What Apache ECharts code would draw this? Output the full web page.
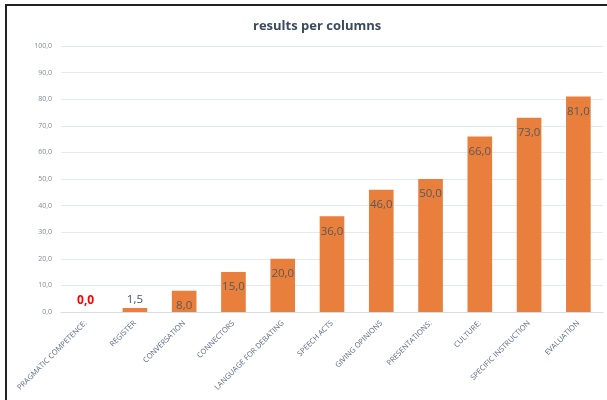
<!DOCTYPE html>
<html><head><meta charset="utf-8">
<script src="https://cdn.jsdelivr.net/npm/echarts@6/dist/echarts.min.js"></script>
<style>html,body{margin:0;padding:0;background:#fff}#c{width:607px;height:400px}</style>
</head><body><div id="c"></div>
<script>
const categories = ['PRAGMATIC COMPETENCE:','REGISTER','CONVERSATION','CONNECTORS','LANGUAGE FOR DEBATING','SPEECH ACTS','GIVING OPINIONS','PRESENTATIONS:','CULTURE:','SPECIFIC INSTRUCTION','EVALUATION'];
const values = [0, 1.5, 8, 15, 20, 36, 46, 50, 66, 73, 81];
const yTicks = {min: 0, max: 100, interval: 10};
const title = 'results per columns';

const fmt = v => Number(v).toFixed(1).replace('.', ',');
const data = values.map((v, i) => {
  const item = {value: v};
  if (i === 0) item.label = {position: 'top', distance: 5, color: '#ff0000', fontWeight: 'bold', fontSize: 12};
  else if (i === 1) item.label = {position: 'top', distance: 2, color: '#44546a'};
  return item;
});

const chart = echarts.init(document.getElementById('c'), null, {renderer: 'canvas'});
chart.setOption({
  backgroundColor: '#fff',
  animation: false,
  title: {text: title, left: 248, top: 15, textStyle: {fontFamily: 'Open Sans', fontSize: 13, fontWeight: 'bold', color: '#3b4a5e'}},
  grid: {left: 61, right: 4, top: 46, bottom: 88, containLabel: false},
  xAxis: {
    type: 'category', data: categories,
    axisLine: {lineStyle: {color: '#d9dee5'}},
    axisTick: {show: false},
    axisLabel: {rotate: 45, interval: 0, fontSize: 7.5, color: '#5d6c84', fontFamily: 'Open Sans', margin: 10}
  },
  yAxis: {
    type: 'value', min: yTicks.min, max: yTicks.max, interval: yTicks.interval,
    axisLine: {show: false}, axisTick: {show: false},
    splitLine: {lineStyle: {color: '#e4e9ef'}},
    axisLabel: {formatter: fmt, fontSize: 7, color: '#7f8898', fontFamily: 'Open Sans', margin: 9}
  },
  series: [{
    type: 'bar', data: data, barWidth: '50%',
    itemStyle: {color: '#E97F3C'},
    label: {show: true, position: 'insideTop', distance: 9, formatter: p => fmt(p.value), fontSize: 11.5, color: '#595959', fontFamily: 'Open Sans'}
  }],
  graphic: [
    {type: 'rect', shape: {x: 6, y: 4, width: 601, height: 2}, style: {fill: '#222'}},
    {type: 'rect', shape: {x: 5, y: 4, width: 2, height: 396}, style: {fill: '#222'}}
  ]
});
</script></body></html>
